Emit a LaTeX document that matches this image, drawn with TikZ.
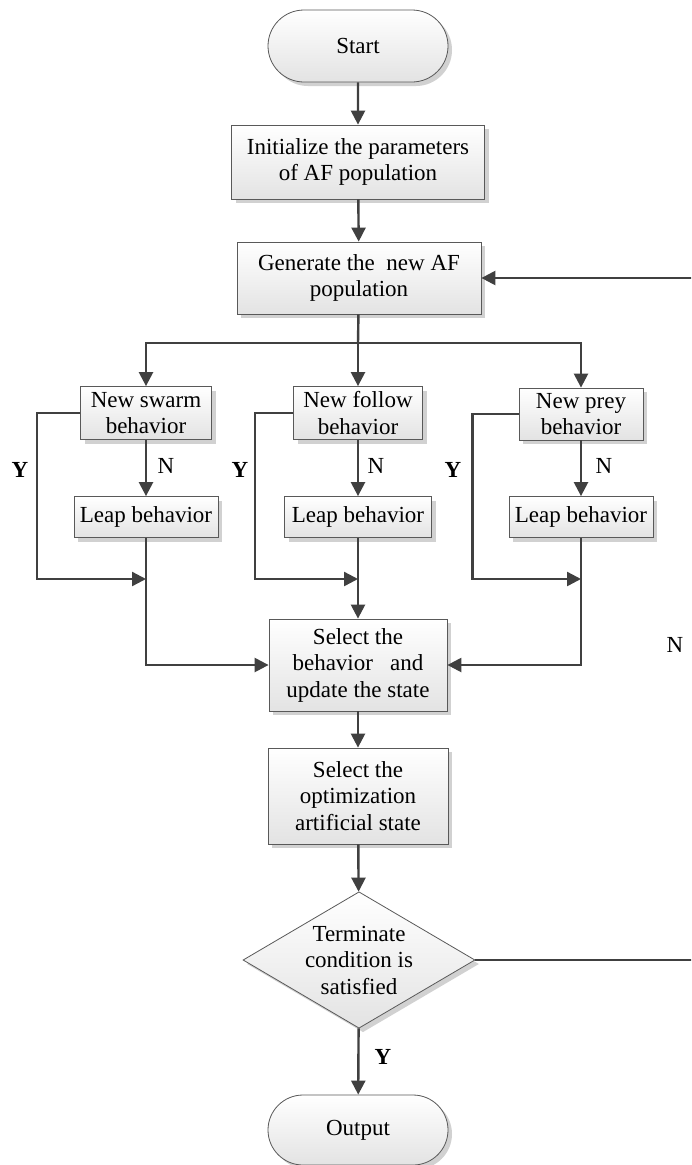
\documentclass[tikz,border=0pt]{standalone}
\usepackage{fontspec}
\setmainfont{Liberation Serif}
\usetikzlibrary{shapes.geometric,shapes.misc,shadows,arrows.meta}
\begin{document}
\begin{tikzpicture}[x=1pt,y=-1pt,
  base/.style={draw=black!65, line width=0.8pt, top color=white, bottom color=black!11,
    drop shadow={shadow xshift=4pt, shadow yshift=-4pt, fill=black!18, opacity=1},
    inner sep=0pt, align=center, font=\fontsize{23}{26.5}\selectfont},
  proc/.style={base, rectangle},
  term/.style={base, rounded rectangle},
  dec/.style={base, diamond, inner sep=-10pt},
  line/.style={draw=black!75, line width=2.4pt},
  conn/.style={line, -{Triangle[length=14pt,width=14pt]}},
  lab/.style={font=\fontsize{23}{26.5}\selectfont, inner sep=0pt},
  blab/.style={lab, font=\fontsize{23}{26.5}\selectfont\bfseries}
]
\clip (0,0) rectangle (691,1165);
\fill[white] (0,0) rectangle (691,1165);

% main column
\node[term, minimum width=180pt, minimum height=72pt] (start) at (358,46) {Start};
\node[proc, minimum width=253pt, minimum height=74pt] (init) at (358,162) {Initialize the parameters\\of AF population};
\node[proc, minimum width=244pt, minimum height=72pt] (gen) at (359,278) {Generate the\ \ new AF\\population};

% behaviours
\node[proc, minimum width=131pt, minimum height=53pt] (swarm) at (146,413) {New swarm\\behavior};
\node[proc, minimum width=129pt, minimum height=53pt] (follow) at (358,413) {New follow\\behavior};
\node[proc, minimum width=124pt, minimum height=52pt] (prey) at (581,414) {New prey\\behavior};

\node[proc, minimum width=144pt, minimum height=41pt] (leapA) at (146,517) {Leap behavior};
\node[proc, minimum width=147pt, minimum height=41pt] (leapB) at (358,517) {Leap behavior};
\node[proc, minimum width=144pt, minimum height=41pt] (leapC) at (581,517) {Leap behavior};

\node[proc, minimum width=178pt, minimum height=92pt] (sel) at (358,665) {Select the\\behavior\ \ \ and\\update the state};
\node[proc, minimum width=180pt, minimum height=96pt] (opt) at (358,796) {Select the\\optimization\\artificial state};
\node[dec, minimum width=232pt, minimum height=129pt] (term) at (359,960) {Terminate\\condition is\\satisfied};
\node[term, minimum width=180pt, minimum height=70pt] (out) at (358,1130) {Output};

% coordinates
\coordinate (br) at (358,343);
\coordinate (jA) at (146,579);
\coordinate (jB) at (358,579);
\coordinate (jC) at (581,579);
\coordinate (loopR) at (705,960);

% connectors
\draw[conn] (start) -- (init);
\draw[conn] (init) -- (gen);
\draw[line] (gen) -- (br);
\draw[conn] (br) -| (swarm.north);
\draw[conn] (br) -- (follow);
\draw[conn] (br) -| (prey.north);

\draw[conn] (swarm) -- (leapA);
\draw[conn] (follow) -- (leapB);
\draw[conn] (prey) -- (leapC);

\draw[conn] (swarm.west) -- ++(-43,0) |- (jA);
\draw[conn] (follow.west) -- ++(-38,0) |- (jB);
\draw[conn] (prey.west) -- ++(-46,0) |- (jC);

\draw[conn] (leapA) |- (sel.west);
\draw[conn] (leapB) -- (sel);
\draw[conn] (leapC) |- (sel.east);

\draw[conn] (sel) -- (opt);
\draw[conn] (opt) -- (term);
\draw[conn] (term) -- (out);
\draw[conn] (term.east) -- (loopR) |- (gen.east);

% labels
\node[lab] (nA) at (166,466) {N};
\node[lab] (nB) at (376,466) {N};
\node[lab] (nC) at (604,466) {N};
\node[blab] (yA) at (20,470) {Y};
\node[blab] (yB) at (240,470) {Y};
\node[blab] (yC) at (453,470) {Y};
\node[lab] (nLoop) at (675,645) {N};
\node[blab] (yOut) at (383,1057) {Y};
\end{tikzpicture}
\end{document}
